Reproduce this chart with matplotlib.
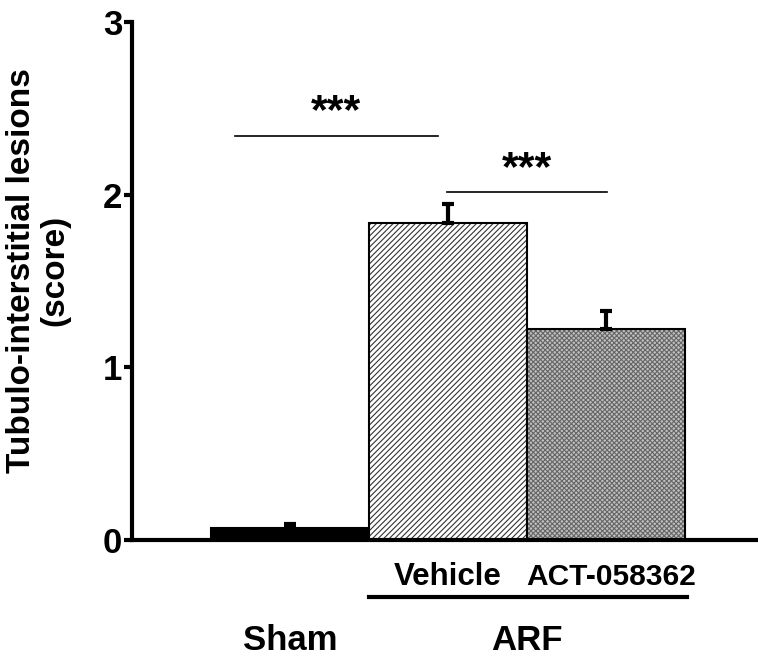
import numpy as np
import matplotlib.pyplot as plt

plt.rcParams['font.family'] = ['Liberation Sans', 'DejaVu Sans']
plt.rcParams['font.weight'] = 'bold'
plt.rcParams['hatch.linewidth'] = 0.8

groups = ['Sham', 'Vehicle', 'ACT-058362']
means = [0.07, 1.835, 1.22]
sems = [0.025, 0.11, 0.105]
ticks = [0, 1, 2, 3]

fig = plt.figure(figsize=(7.58, 6.59), dpi=100)
ax = fig.add_axes([132/758, 1 - 540/659, 1 - 132/758, (540 - 22)/659])

x = np.array([1, 2, 3])
# sham: solid black
ax.bar(x[0], means[0], width=1, color='black', edgecolor='black', linewidth=1.5, zorder=2)
# vehicle: diagonal hatch
ax.bar(x[1], means[1], width=1, color='white', edgecolor='#333333', hatch='/' * 6, linewidth=0, zorder=2)
ax.bar(x[1], means[1], width=1, color='none', edgecolor='black', linewidth=1.5, zorder=3)
# ACT: grey dotted pattern
ax.bar(x[2], means[2], width=1, color='#c0c0c0', edgecolor='#666666', hatch='x' * 7, linewidth=0, zorder=2)
ax.bar(x[2], means[2], width=1, color='none', edgecolor='black', linewidth=1.5, zorder=3)

ax.errorbar(x, means, yerr=[np.zeros(3), sems], fmt='none', ecolor='black',
            elinewidth=3, capsize=4.5, capthick=3, zorder=4)

ax.set_xlim(0, 626/158)
ax.set_ylim(0, 3)
ax.set_yticks(ticks)
ax.set_yticklabels([str(t) for t in ticks], fontsize=25, fontweight='bold')
ax.set_xticks([])
for s in ['top', 'right']:
    ax.spines[s].set_visible(False)
for s in ['left', 'bottom']:
    ax.spines[s].set_linewidth(3)
ax.tick_params(axis='y', width=3, length=6, pad=1)

ax.set_ylabel('Tubulo-interstitial lesions\n(score)', fontsize=24, fontweight='bold',
              linespacing=1.1)
ax.yaxis.set_label_coords(-0.099, 0.521)

# significance
ax.plot([0.652, 1.937], [2.34, 2.34], color='black', lw=1.2, clip_on=False)
ax.text(1.29, 2.36, '***', ha='center', va='bottom', fontsize=31, fontweight='bold')
ax.plot([1.994, 3.006], [2.015, 2.015], color='black', lw=1.2, clip_on=False)
ax.text(2.5, 2.035, '***', ha='center', va='bottom', fontsize=31, fontweight='bold')

# group labels below axis
ax.text(2, -0.214, 'Vehicle', ha='center', va='center', fontsize=22.5, fontweight='bold', clip_on=False)
ax.text(3.03, -0.214, 'ACT-058362', ha='center', va='center', fontsize=21.5, fontweight='bold', clip_on=False)
ax.plot([1.5, 3.51], [-0.33, -0.33], color='black', lw=3, clip_on=False)
ax.text(1, -0.58, 'Sham', ha='center', va='center', fontsize=25, fontweight='bold', clip_on=False)
ax.text(2.5, -0.58, 'ARF', ha='center', va='center', fontsize=25, fontweight='bold', clip_on=False)

fig.savefig('out.png', dpi=100)
